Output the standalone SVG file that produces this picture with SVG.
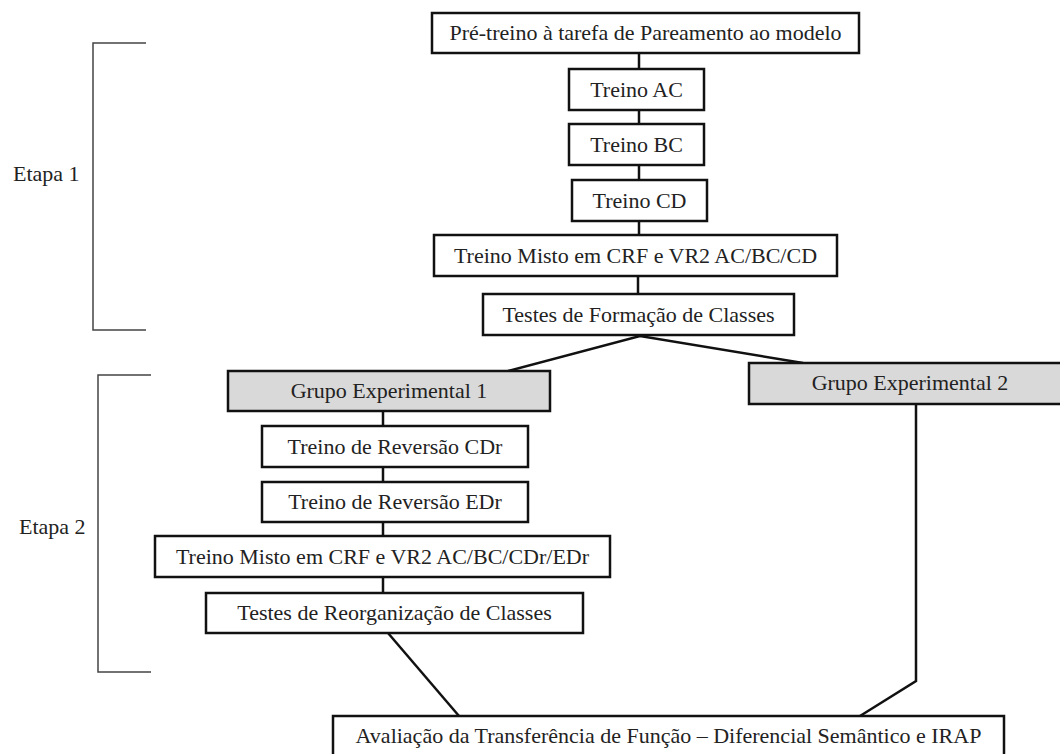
<svg xmlns="http://www.w3.org/2000/svg" width="1060" height="754" viewBox="0 0 1060 754">
<style>
.box{fill:#fff;stroke:#111;stroke-width:2.5}
.grey{fill:#d9d9d9;stroke:#111;stroke-width:2.5}
.t{font-family:"Liberation Serif","Times New Roman",serif;font-size:22px;fill:#222;text-anchor:middle}
.lab{font-family:"Liberation Serif","Times New Roman",serif;font-size:22px;fill:#222}
.c{fill:none;stroke:#111;stroke-width:2.5}
.br{fill:none;stroke:#444;stroke-width:1.5}
</style>
<rect width="1060" height="754" fill="#fff"/>
<g id="brackets">
<polyline class="br" points="146,43 93,43 93,330 146,330"/>
<polyline class="br" points="151,375 98,375 98,672 151,672"/>
<text class="lab" x="13" y="181">Etapa 1</text>
<text class="lab" x="19" y="534">Etapa 2</text>
</g>
<g id="connectors">
<line class="c" x1="639" y1="53" x2="639" y2="69"/>
<line class="c" x1="639" y1="110" x2="639" y2="124"/>
<line class="c" x1="639" y1="165" x2="639" y2="180"/>
<line class="c" x1="639" y1="221" x2="639" y2="235"/>
<line class="c" x1="638" y1="276" x2="638" y2="294"/>
<polyline class="c" points="508,371 640,336 803,363"/>
<line class="c" x1="383" y1="411" x2="383" y2="426"/>
<line class="c" x1="383" y1="467" x2="383" y2="482"/>
<line class="c" x1="383" y1="522" x2="383" y2="536"/>
<line class="c" x1="383" y1="577" x2="383" y2="593"/>
<line class="c" x1="388" y1="633" x2="459" y2="716"/>
<polyline class="c" points="916,404 916,681 860,716"/>
</g>
<g id="n1"><rect class="box" x="432" y="13" width="427" height="40"/><text class="t" x="645.5" y="40">Pré-treino à tarefa de Pareamento ao modelo</text></g>
<g id="n2"><rect class="box" x="569" y="69" width="135" height="41"/><text class="t" x="636.5" y="97">Treino AC</text></g>
<g id="n3"><rect class="box" x="569" y="124" width="135" height="41"/><text class="t" x="636.5" y="152">Treino BC</text></g>
<g id="n4"><rect class="box" x="572" y="180" width="135" height="41"/><text class="t" x="639.5" y="208">Treino CD</text></g>
<g id="n5"><rect class="box" x="434" y="235" width="403" height="41"/><text class="t" x="635.5" y="263">Treino Misto em CRF e VR2 AC/BC/CD</text></g>
<g id="n6"><rect class="box" x="483" y="294" width="311" height="41"/><text class="t" x="638.5" y="322">Testes de Formação de Classes</text></g>
<g id="n7"><rect class="grey" x="228" y="371" width="322" height="40"/><text class="t" x="389" y="398">Grupo Experimental 1</text></g>
<g id="n8"><rect class="grey" x="749" y="363" width="322" height="41"/><text class="t" x="910" y="390">Grupo Experimental 2</text></g>
<g id="n9"><rect class="box" x="262" y="426" width="266" height="41"/><text class="t" x="395" y="454">Treino de Reversão CDr</text></g>
<g id="n10"><rect class="box" x="262" y="482" width="266" height="40"/><text class="t" x="395" y="509">Treino de Reversão EDr</text></g>
<g id="n11"><rect class="box" x="155" y="536" width="455" height="41"/><text class="t" x="382.5" y="564">Treino Misto em CRF e VR2 AC/BC/CDr/EDr</text></g>
<g id="n12"><rect class="box" x="206" y="593" width="377" height="40"/><text class="t" x="394.5" y="620">Testes de Reorganização de Classes</text></g>
<g id="n13"><rect class="box" x="333" y="716" width="671" height="42"/><text class="t" x="668.5" y="743">Avaliação da Transferência de Função – Diferencial Semântico e IRAP</text></g>
</svg>
